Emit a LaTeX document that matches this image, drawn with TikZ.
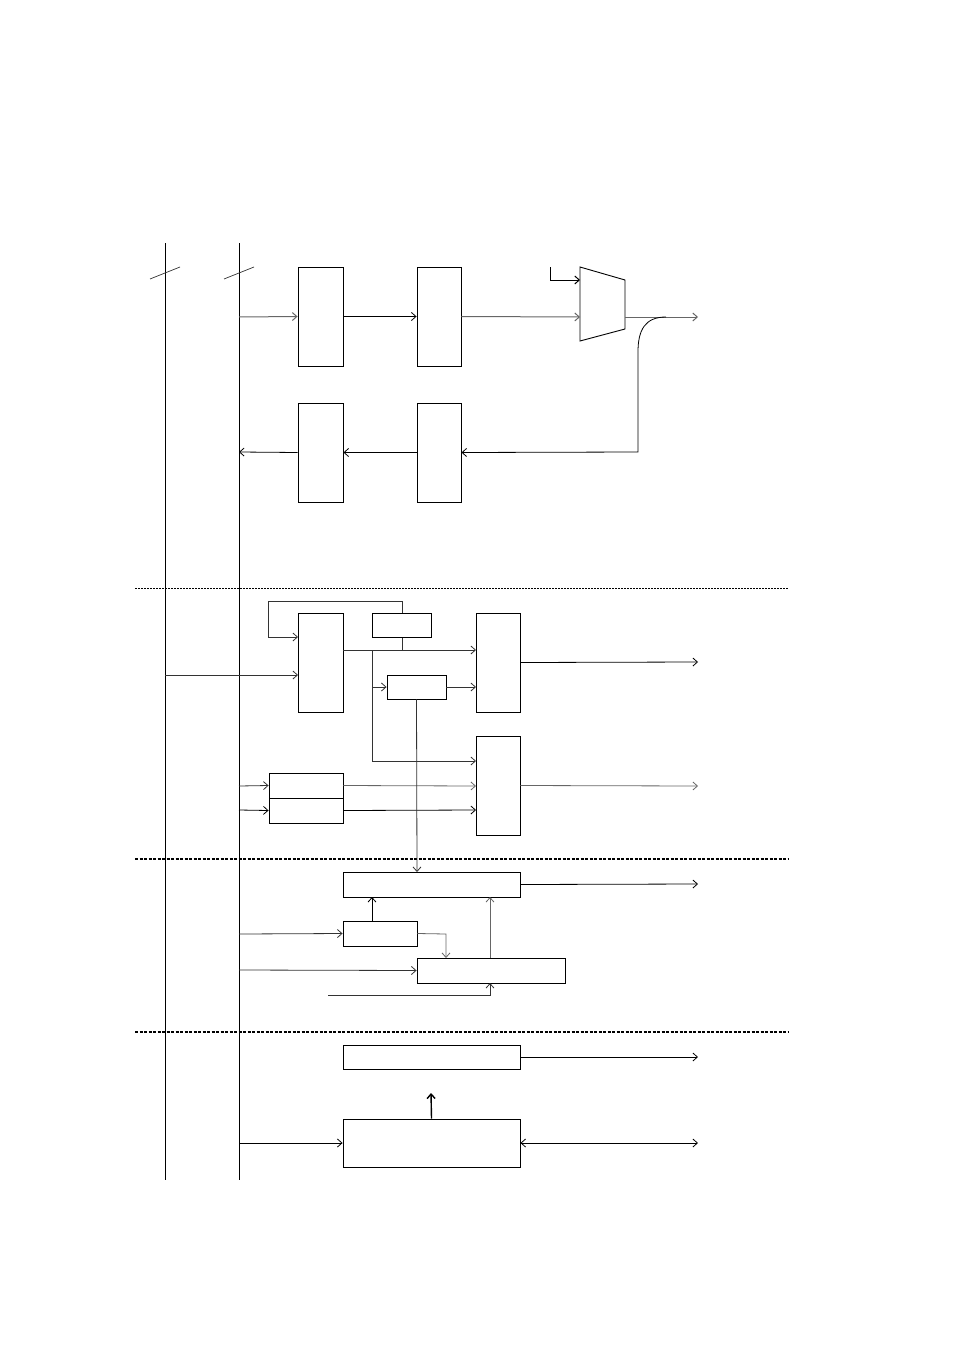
\documentclass[tikz,border=0pt]{standalone}
\usetikzlibrary{arrows.meta,calc}
\begin{document}
\begin{tikzpicture}[x=1pt,y=-1pt,line width=0.8pt,
  >={Straight Barb[length=4.5pt,width=8pt]},
  blk/.style={draw,rectangle,inner sep=0pt,line width=0.9pt},
  gl/.style={draw=black!60},
  sep1/.style={line width=0.6pt,dash pattern=on 2pt off 1pt},
  sep2/.style={line width=1.2pt,dash pattern=on 3pt off 1.5pt}]
\useasboundingbox (0,0) rectangle (954,1351);
% buses
\coordinate (B1t) at (165,243); \coordinate (B1b) at (165,1180);
\coordinate (B2t) at (239,243); \coordinate (B2b) at (239,1180);
\draw (B1t) -- (B1b);
\draw (B2t) -- (B2b);
\draw[line width=0.7pt,black!80] (150,279) -- (180,267);
\draw[line width=0.7pt,black!80] (224,279) -- (254,267);
% separators
\draw[sep1] (135,588) -- (788,588);
\draw[sep2] (135,859) -- (788,859);
\draw[sep2] (135,1032) -- (788,1032);
% top section
\node[blk,minimum width=45pt,minimum height=99pt] (A1) at (320.5,316.5) {};
\node[blk,minimum width=44pt,minimum height=99pt] (A2) at (439,316.5) {};
\node[blk,minimum width=45pt,minimum height=99pt] (C1b) at (320.5,452.5) {};
\node[blk,minimum width=44pt,minimum height=99pt] (C2b) at (439,452.5) {};
\coordinate (M1) at (580,267); \coordinate (M2) at (625,280);
\coordinate (M3) at (625,329); \coordinate (M4) at (580,341);
\draw[line width=0.9pt] (M1) -- (M2) -- (M3) -- (M4) -- cycle;
\coordinate (Min) at (580,317); \coordinate (Msel) at (580,280);
\coordinate (Mout) at (625,317);
\coordinate (S0) at (550,267); \coordinate (S1) at (550,280);
\coordinate (O1) at (698,317);
\coordinate (P1) at (239,317);
\draw[->,gl,line width=1pt] (P1) -- (A1.west);
\draw[->] (A1.east) -- (A2.west);
\draw[->,gl,line width=1pt] (A2.east) -- (Min);
\draw[->,line width=1pt] (S0) -- (S1) -- (Msel);
\draw[->,gl,line width=1pt] (Mout) -- (O1);
\coordinate (K0) at (666,317); \coordinate (K1) at (638,352);
\coordinate (K2) at (638,452);
\draw[->] (K0) .. controls (645,317) and (638,330) .. (K1) -- (K2) -- (C2b.east);
\draw[->] (C2b.west) -- (C1b.east);
\coordinate (P2) at (239,452);
\draw[->] (C1b.west) -- (P2);
% section 2
\node[blk,minimum width=45pt,minimum height=99pt] (D0) at (320.5,662.5) {};
\node[blk,minimum width=59pt,minimum height=24pt] (R1) at (402,625.5) {};
\node[blk,minimum width=59pt,minimum height=24pt] (R2) at (416.5,687) {};
\node[blk,minimum width=44pt,minimum height=99pt] (D1) at (498,662.5) {};
\node[blk,minimum width=44pt,minimum height=99pt] (D2) at (498,785.5) {};
\node[blk,minimum width=74pt,minimum height=25pt] (F1) at (306,785.5) {};
\node[blk,minimum width=74pt,minimum height=25pt] (F2) at (306,810.5) {};
\coordinate (L0) at (402,601); \coordinate (L1) at (268,601); \coordinate (L2) at (268,637);
\coordinate (D0a) at (298,637);
\draw[->,black!80] (R1.north) -- (L0) -- (L1) -- (L2) -- (D0a);
\coordinate (Q1) at (165,675); \coordinate (D0b) at (298,675);
\draw[->,black!80] (Q1) -- (D0b);
\coordinate (D0c) at (343,650); \coordinate (D1a) at (476,650);
\draw[->,black!80] (D0c) -- (D1a);
\coordinate (J1) at (402,650);
\draw[black!80] (R1.south) -- (J1);
\coordinate (J2) at (372,650); \coordinate (J3) at (372,761); \coordinate (D2a) at (476,761);
\draw[->,black!80] (J2) -- (J3) -- (D2a);
\coordinate (J4) at (372,687);
\draw[->,black!80] (J4) -- (R2.west);
\coordinate (D1b) at (476,687);
\draw[->,black!80] (R2.east) -- (D1b);
\coordinate (O2) at (698,662);
\draw[->] (D1.east) -- (O2);
\coordinate (P3) at (239,786); \coordinate (P4) at (239,810);
\draw[->,black!80] (P3) -- (F1.west);
\draw[->] (P4) -- (F2.west);
\coordinate (D2b) at (476,786); \coordinate (D2c) at (476,810);
\draw[->,gl] (F1.east) -- (D2b);
\draw[->] (F2.east) -- (D2c);
\coordinate (O3) at (698,786);
\draw[->,gl] (D2.east) -- (O3);
% section 3
\node[blk,minimum width=177pt,minimum height=25pt] (E1) at (431.5,884.5) {};
\node[blk,minimum width=74pt,minimum height=25pt] (E2) at (380,933.5) {};
\node[blk,minimum width=148pt,minimum height=25pt] (E3) at (491,970.5) {};
\coordinate (E1a) at (417,872);
\draw[->,black!80] (R2.south) -- (E1a);
\coordinate (O4) at (698,884);
\draw[->] (E1.east) -- (O4);
\coordinate (P5) at (239,934); \coordinate (P6) at (239,970);
\draw[->,black!80] (P5) -- (E2.west);
\draw[->,black!80] (P6) -- (E3.west);
\coordinate (E2t) at (372,921); \coordinate (E1b) at (372,897);
\draw[->] (E2t) -- (E1b);
\coordinate (T1) at (446,934); \coordinate (E3t) at (446,958);
\draw[->,gl] (E2.east) -- (T1) -- (E3t);
\coordinate (E3u) at (490,958); \coordinate (E1c) at (490,897);
\draw[->,gl] (E3u) -- (E1c);
\coordinate (W0) at (328,995); \coordinate (W1) at (490,995); \coordinate (E3b) at (490,983);
\draw[->,black!80] (W0) -- (W1) -- (E3b);
% section 4
\node[blk,minimum width=177pt,minimum height=24pt] (G1) at (431.5,1057) {};
\node[blk,minimum width=177pt,minimum height=48pt] (G2) at (431.5,1143) {};
\coordinate (O5) at (698,1057);
\draw[->] (G1.east) -- (O5);
\coordinate (U1) at (431,1093);
\draw[->,line width=1.4pt] (G2.north) -- (U1);
\coordinate (P7) at (239,1143);
\draw[->] (P7) -- (G2.west);
\coordinate (O6) at (698,1143);
\draw[<->] (G2.east) -- (O6);
\end{tikzpicture}
\end{document}
